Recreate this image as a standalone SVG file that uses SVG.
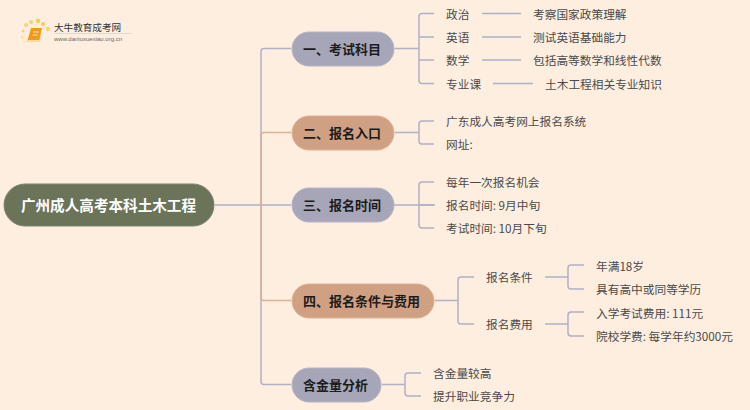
<svg xmlns="http://www.w3.org/2000/svg" width="750" height="410" viewBox="0 0 750 410">
<style>
text{font-family:"Noto Sans CJK SC","Liberation Sans",sans-serif}
.l{font-size:11.700px;fill:#4a4a4a;dominant-baseline:central}
.b{font-size:13px;font-weight:700;fill:#1c1c1c;dominant-baseline:central}
.c{fill:none;stroke:#b0b0c6;stroke-width:1.5}
.t{fill:none;stroke:#dcae92;stroke-width:1.5}
.g{fill:#a6a6b8;stroke:#b4b4c6}
.o{fill:#d0a083;stroke:#dcb298}
</style>
<rect width="750" height="410" fill="#feeee0"/>
<g id="logo">
<circle cx="26" cy="25" r="2" fill="#fbd36a"/><circle cx="31" cy="22" r="2" fill="#fbd36a"/><circle cx="38" cy="21" r="2.2" fill="#fbc94f"/><circle cx="43" cy="24" r="2" fill="#fbc94f"/><circle cx="48" cy="29" r="2.2" fill="#fbd36a"/><circle cx="23" cy="31" r="1.5" fill="#fbd36a"/><circle cx="22" cy="37" r="1.2" fill="#fcdc90"/><circle cx="24" cy="42" r="1" fill="#fcdc90"/>
<path d="M31 28h11l-3 14h-12z" fill="#f39a1e"/><path d="M27 40l-1 2h13l1-2z" fill="#fbd9a0"/><path d="M33 32h6M32.500 35h5" stroke="#fde3b0" stroke-width="1"/>
<text x="54" y="31" style="font-size:9.600px;fill:#333">大牛教育成考网</text>
<rect x="54" y="33" width="78" height="1" fill="#e2d8cf"/>
<text x="54" y="41" style="font-size:6px;fill:#666;font-family:'Liberation Sans',sans-serif">www.daniuxuexiao.org.cn</text>
</g>
<g id="connectors">
<path class="c" d="M215 205H291M394 205H435"/>
<path class="c" d="M291 48.500H264Q261 48.500 261 51.500V381.500Q261 384.500 264 384.500H291"/>
<path class="t" d="M291 132.500H264Q261 132.500 261 135.500V205M261 205V297.500Q261 300.500 264 300.500H291"/>
<path class="c" d="M395 48.500H419M434 13.500H422Q419 13.500 419 16.500V80.500Q419 83.500 422 83.500H434M419 37H434M419 60H434"/>
<path class="c" d="M395 132.500H419M434 121H422Q419 121 419 124V141Q419 144 422 144H434"/>
<path class="c" d="M419 205H434M434 182H422Q419 182 419 185V225Q419 228 422 228H434"/>
<path class="c" d="M435 300.500H458M474 277H461Q458 277 458 280V321Q458 324 461 324H474"/>
<path class="c" d="M382 384.500H405M421 373H408Q405 373 405 376V393Q405 396 408 396H421"/>
<path class="c" d="M482 13.500H521M482 37H521M482 60H521M493 83.500H533"/>
<path class="c" d="M545 277H568M584 265H571Q568 265 568 268V286Q568 289 571 289H584M545 324H568M584 312H571Q568 312 568 315V333Q568 336 571 336H584"/>
</g>
<g id="root"><rect x="4" y="184" width="210" height="42" rx="21" fill="#6b7359" stroke="#7d8570"/><text x="108.500" y="204.500" text-anchor="middle" dominant-baseline="central" style="font-size:14.600px;font-weight:700;fill:#fff">广州成人高考本科土木工程</text></g>
<g id="n1"><rect x="292" y="32" width="102" height="34" rx="17" class="g"/><text x="303" y="48" class="b">一、考试科目</text></g>
<g id="n2"><rect x="292" y="116" width="102" height="34" rx="17" class="o"/><text x="303" y="132" class="b">二、报名入口</text></g>
<g id="n3"><rect x="292" y="188" width="102" height="34" rx="17" class="g"/><text x="303" y="204.500" class="b">三、报名时间</text></g>
<g id="n4"><rect x="292" y="284" width="142" height="34" rx="17" class="o"/><text x="303" y="300" class="b">四、报名条件与费用</text></g>
<g id="n5"><rect x="292" y="368" width="89" height="34" rx="17" class="g"/><text x="303" y="384" class="b">含金量分析</text></g>
<g id="leaves">
<text x="446" y="13" class="l">政治</text><text x="533" y="13" class="l">考察国家政策理解</text>
<text x="446" y="36.500" class="l">英语</text><text x="533" y="36.500" class="l">测试英语基础能力</text>
<text x="446" y="59.500" class="l">数学</text><text x="533" y="59.500" class="l">包括高等数学和线性代数</text>
<text x="446" y="83" class="l">专业课</text><text x="545" y="83" class="l">土木工程相关专业知识</text>
<text x="446" y="120.500" class="l">广东成人高考网上报名系统</text><text x="446" y="143.500" class="l">网址:</text>
<text x="446" y="181" class="l">每年一次报名机会</text><text x="446" y="204.500" class="l">报名时间: 9月中旬</text><text x="446" y="227.500" class="l">考试时间: 10月下旬</text>
<text x="486" y="276.500" class="l">报名条件</text><text x="486" y="323.500" class="l">报名费用</text>
<text x="596" y="265" class="l">年满18岁</text><text x="596" y="288.500" class="l">具有高中或同等学历</text>
<text x="596" y="312" class="l">入学考试费用: 111元</text><text x="596" y="335.500" class="l">院校学费: 每学年约3000元</text>
<text x="433" y="372.500" class="l">含金量较高</text><text x="433" y="395.500" class="l">提升职业竞争力</text>
</g>
</svg>
